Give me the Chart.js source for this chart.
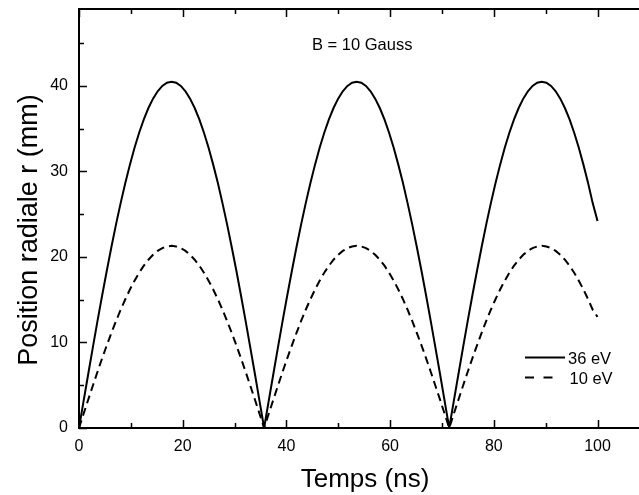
<!DOCTYPE html>
<html>
<head>
<meta charset="utf-8">
<script src="https://cdn.jsdelivr.net/npm/chart.js@4/dist/chart.umd.min.js"></script>
<style>
  html, body { margin: 0; padding: 0; background: #fff; }
  #c { display: block; }
</style>
</head>
<body>
<canvas id="c" width="639" height="495"></canvas>
<script>
// Temps (ns)
const temps = [
  0, 0.89, 1.79, 2.68, 3.57, 4.46, 5.36, 6.25, 7.14, 8.03, 8.93, 9.82, 10.71, 11.60, 12.50, 13.39, 14.28, 15.17, 16.07, 16.96,
  17.85, 18.74, 19.64, 20.53, 21.42, 22.31, 23.21, 24.10, 24.99, 25.88, 26.78, 27.67, 28.56, 29.45, 30.35, 31.24, 32.13, 33.02, 33.92, 34.81,
  35.70, 36.59, 37.49, 38.38, 39.27, 40.16, 41.06, 41.95, 42.84, 43.73, 44.63, 45.52, 46.41, 47.30, 48.20, 49.09, 49.98, 50.87, 51.77, 52.66,
  53.55, 54.44, 55.34, 56.23, 57.12, 58.01, 58.91, 59.80, 60.69, 61.58, 62.48, 63.37, 64.26, 65.15, 66.05, 66.94, 67.83, 68.72, 69.62, 70.51,
  71.40, 72.29, 73.19, 74.08, 74.97, 75.86, 76.76, 77.65, 78.54, 79.43, 80.33, 81.22, 82.11, 83.00, 83.90, 84.79, 85.68, 86.57, 87.47, 88.36,
  89.25, 90.14, 91.04, 91.93, 92.82, 93.71, 94.61, 95.50, 96.39, 97.28, 98.18, 99.07, 100
];

// Position radiale r (mm), 36 eV
const r36eV = [
  0, 3.18, 6.34, 9.45, 12.52, 15.50, 18.39, 21.16, 23.81, 26.30, 28.64, 30.80, 32.77, 34.53, 36.09, 37.42, 38.52, 39.38, 40.00, 40.38,
  40.50, 40.38, 40.00, 39.38, 38.52, 37.42, 36.09, 34.53, 32.77, 30.80, 28.64, 26.30, 23.81, 21.16, 18.39, 15.50, 12.52, 9.45, 6.34, 3.18,
  0, 3.18, 6.34, 9.45, 12.52, 15.50, 18.39, 21.16, 23.81, 26.30, 28.64, 30.80, 32.77, 34.53, 36.09, 37.42, 38.52, 39.38, 40.00, 40.38,
  40.50, 40.38, 40.00, 39.38, 38.52, 37.42, 36.09, 34.53, 32.77, 30.80, 28.64, 26.30, 23.81, 21.16, 18.39, 15.50, 12.52, 9.45, 6.34, 3.18,
  0, 3.18, 6.34, 9.45, 12.52, 15.50, 18.39, 21.16, 23.81, 26.30, 28.64, 30.80, 32.77, 34.53, 36.09, 37.42, 38.52, 39.38, 40.00, 40.38,
  40.50, 40.38, 40.00, 39.38, 38.52, 37.42, 36.09, 34.53, 32.77, 30.80, 28.64, 26.30, 24.2
];

// Position radiale r (mm), 10 eV
const r10eV = [
  0, 1.67, 3.33, 4.97, 6.58, 8.15, 9.67, 11.13, 12.52, 13.83, 15.06, 16.20, 17.23, 18.16, 18.98, 19.68, 20.26, 20.71, 21.04, 21.23,
  21.30, 21.23, 21.04, 20.71, 20.26, 19.68, 18.98, 18.16, 17.23, 16.20, 15.06, 13.83, 12.52, 11.13, 9.67, 8.15, 6.58, 4.97, 3.33, 1.67,
  0, 1.67, 3.33, 4.97, 6.58, 8.15, 9.67, 11.13, 12.52, 13.83, 15.06, 16.20, 17.23, 18.16, 18.98, 19.68, 20.26, 20.71, 21.04, 21.23,
  21.30, 21.23, 21.04, 20.71, 20.26, 19.68, 18.98, 18.16, 17.23, 16.20, 15.06, 13.83, 12.52, 11.13, 9.67, 8.15, 6.58, 4.97, 3.33, 1.67,
  0, 1.67, 3.33, 4.97, 6.58, 8.15, 9.67, 11.13, 12.52, 13.83, 15.06, 16.20, 17.23, 18.16, 18.98, 19.68, 20.26, 20.71, 21.04, 21.23,
  21.30, 21.23, 21.04, 20.71, 20.26, 19.68, 18.98, 18.16, 17.23, 16.20, 15.06, 13.83, 13.0
];

const seriesLabels = ['36 eV', '10 eV'];
const xMajorTicks = [0, 20, 40, 60, 80, 100];
const xMinorTicks = [10, 30, 50, 70, 90];
const yMajorTicks = [0, 10, 20, 30, 40];
const yMinorTicks = [5, 15, 25, 35, 45];
const xTitle = 'Temps (ns)';
const yTitle = 'Position radiale r (mm)';
const annotationText = 'B = 10 Gauss';

const FONT = '"Liberation Sans", Arial, Helvetica, sans-serif';

// ticks vers l'intérieur, ligne du haut, titres, légende, texte B
const decorPlugin = {
  id: 'decor',
  afterDraw(chart) {
    const { ctx, chartArea: a, scales: { x, y } } = chart;
    ctx.save();
    ctx.strokeStyle = '#000';
    ctx.lineWidth = 2;
    ctx.beginPath();
    ctx.moveTo(a.left - 1, a.top);
    ctx.lineTo(a.right, a.top);
    ctx.stroke();

    ctx.lineWidth = 1.5;
    ctx.beginPath();
    const xTick = (v, len) => {
      const px = Math.round(x.getPixelForValue(v)) + 0.5;
      ctx.moveTo(px, a.bottom); ctx.lineTo(px, a.bottom - len);
      ctx.moveTo(px, a.top); ctx.lineTo(px, a.top + len);
    };
    const yTick = (v, len) => {
      const py = Math.round(y.getPixelForValue(v)) + 0.5;
      ctx.moveTo(a.left, py); ctx.lineTo(a.left + len, py);
    };
    xMajorTicks.forEach(v => xTick(v, 8));
    xMinorTicks.forEach(v => xTick(v, 5));
    yMajorTicks.forEach(v => yTick(v, 8));
    yMinorTicks.forEach(v => yTick(v, 5));
    ctx.stroke();

    ctx.fillStyle = '#000';
    ctx.textBaseline = 'alphabetic';

    // titres des axes
    ctx.font = '26px ' + FONT;
    ctx.textAlign = 'center';
    ctx.fillText(xTitle, 365, 487);
    ctx.save();
    ctx.translate(37, 230);
    ctx.rotate(-Math.PI / 2);
    ctx.font = '27px ' + FONT;
    ctx.fillText(yTitle, 0, 0);
    ctx.restore();

    // légende
    ctx.textAlign = 'left';
    ctx.font = '16.5px ' + FONT;
    const lx = 525;
    const rows = [
      { y: 357.5, base: 364, len: 40, dash: [], tx: 568 },
      { y: 377.5, base: 384, len: 28, dash: [9, 9.5], tx: 569.5 }
    ];
    chart.data.datasets.forEach((ds, i) => {
      const r = rows[i];
      ctx.lineWidth = 2;
      ctx.setLineDash(r.dash);
      ctx.beginPath();
      ctx.moveTo(lx, r.y);
      ctx.lineTo(lx + r.len, r.y);
      ctx.stroke();
      ctx.setLineDash([]);
      ctx.fillText(ds.label, r.tx, r.base);
    });

    ctx.fillText(annotationText, 312, 49.5);
    ctx.restore();
  }
};

const toPoints = vals => temps.map((t, i) => ({ x: t, y: vals[i] }));

new Chart(document.getElementById('c'), {
  type: 'line',
  data: {
    datasets: [
      {
        label: seriesLabels[0],
        data: toPoints(r36eV),
        borderColor: '#000',
        borderWidth: 2,
        pointRadius: 0,
        tension: 0,
        fill: false
      },
      {
        label: seriesLabels[1],
        data: toPoints(r10eV),
        borderColor: '#000',
        borderWidth: 2,
        borderDash: [8, 5],
        pointRadius: 0,
        tension: 0,
        fill: false
      }
    ]
  },
  options: {
    responsive: false,
    animation: false,
    devicePixelRatio: 1,
    layout: { padding: { top: 9, right: 0, left: 0, bottom: 0 } },
    plugins: { legend: { display: false }, tooltip: { enabled: false } },
    scales: {
      x: {
        type: 'linear',
        min: 0,
        max: 108,
        afterBuildTicks: s => { s.ticks = xMajorTicks.map(v => ({ value: v })); },
        afterFit: s => { s.height = 67; s.paddingLeft = 0; s.paddingRight = 0; },
        grid: { display: false, drawTicks: false },
        border: { display: true, color: '#000', width: 2 },
        ticks: { color: '#000', padding: 9, font: { family: FONT, size: 16 }, maxRotation: 0 },
        title: { display: false }
      },
      y: {
        type: 'linear',
        min: 0,
        max: 49,
        afterBuildTicks: s => { s.ticks = yMajorTicks.map(v => ({ value: v })); },
        afterFit: s => { s.width = 79; s.paddingTop = 0; s.paddingBottom = 0; },
        grid: { display: false, drawTicks: false },
        border: { display: true, color: '#000', width: 2 },
        ticks: { color: '#000', padding: 11, font: { family: FONT, size: 16 } },
        title: { display: false }
      }
    }
  },
  plugins: [decorPlugin]
});
</script>
</body>
</html>
